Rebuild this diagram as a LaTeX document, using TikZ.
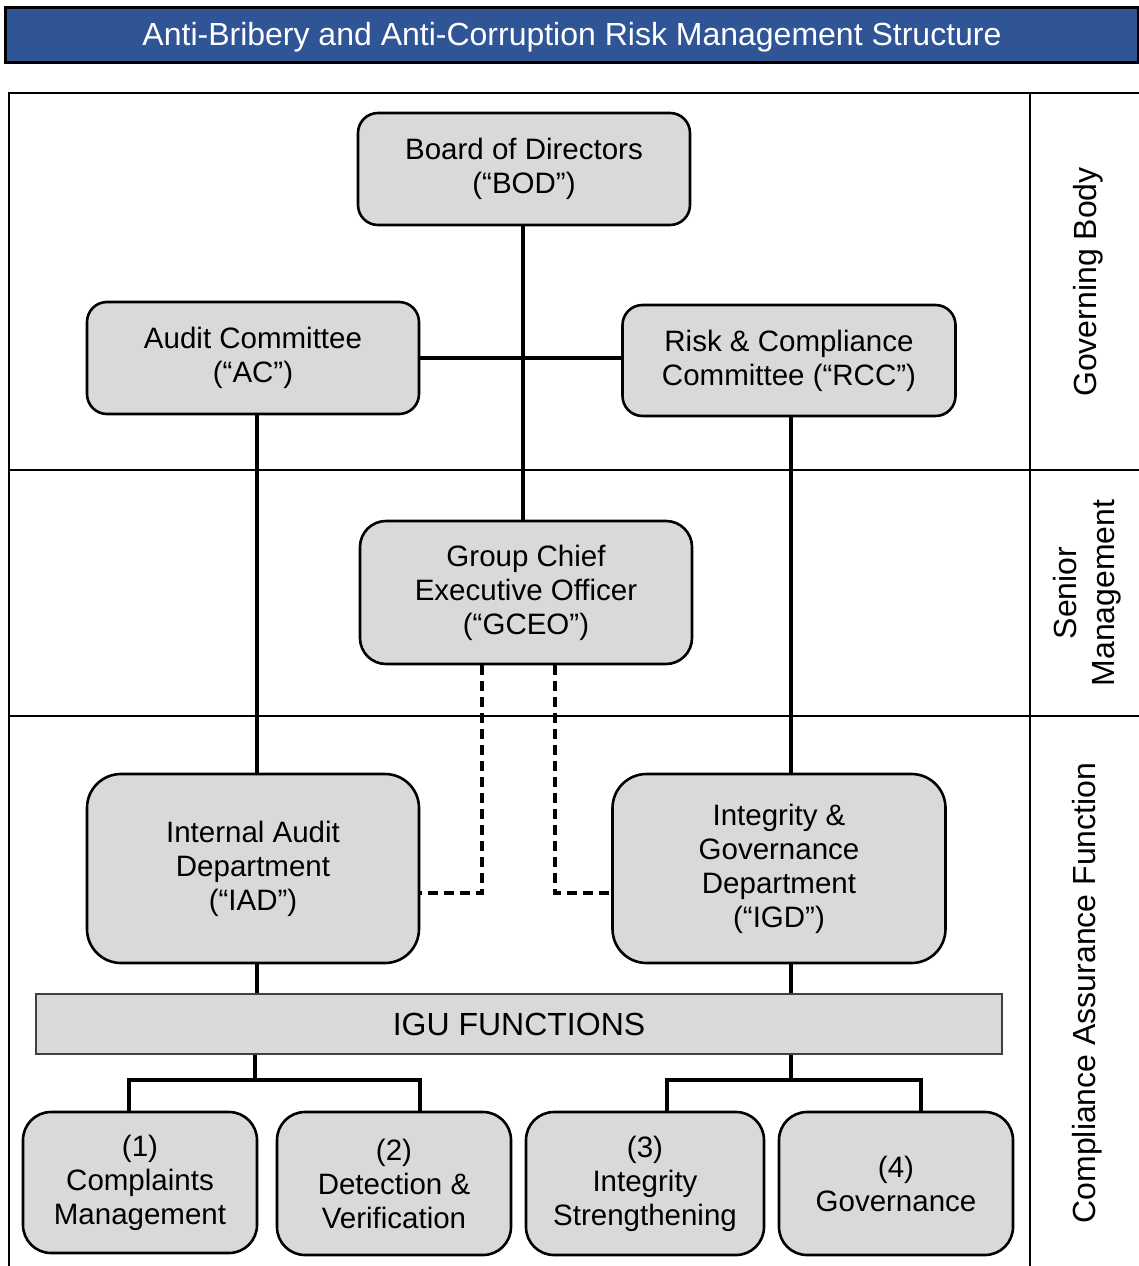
\documentclass[tikz,border=0pt]{standalone}
\usepackage{fontspec}
\setmainfont{Liberation Sans}
\usetikzlibrary{calc}
\definecolor{boxfill}{HTML}{D9D9D9}
\definecolor{titleblue}{HTML}{2F5597}
\tikzset{
  txt/.style={font=\fontsize{29.5}{34}\selectfont, align=center},
  bigtxt/.style={font=\fontsize{32}{38}\selectfont, align=center},
  orgbox/.style={txt, draw=black, line width=2.6pt, fill=boxfill, rounded corners=#1, inner sep=0pt},
  orgbox/.default=20pt,
  solidlink/.style={draw=black, line width=3.6pt},
  dashlink/.style={draw=black, line width=3.6pt, dash pattern=on 10pt off 6pt},
  tableline/.style={draw=black, line width=1.8pt},
  sidelabel/.style={bigtxt, rotate=90}
}
\begin{document}
\begin{tikzpicture}[x=1pt,y=-1pt]
\useasboundingbox (0,0) rectangle (1139,1266);
% title
\node[draw=black, line width=3pt, fill=titleblue, minimum width=1133pt, minimum height=55pt, inner sep=0pt, text=white, bigtxt] (title) at (571.5,34.5) {};
\node[text=white, bigtxt, anchor=center] (titletext) at (572,37.5) {Anti-Bribery and Anti-Corruption Risk Management Structure};
% table grid
\draw[tableline] (9,1266) -- (9,93) -- (1139,93);
\draw[tableline] (1030,93) -- (1030,1266);
\draw[tableline] (9,470) -- (1139,470);
\draw[tableline] (9,716) -- (1139,716);
% side labels
\node[sidelabel] (lgov) at (1088,282) {Governing Body};
\node[sidelabel] (lsen) at (1087,593) {Senior\\Management};
\node[sidelabel] (lcaf) at (1087,993) {Compliance Assurance Function};
% boxes
\node[orgbox, minimum width=332pt, minimum height=112pt] (BOD) at (524,169) {Board of Directors\\(“BOD”)};
\node[orgbox, minimum width=332pt, minimum height=112pt] (AC) at (253,358) {Audit Committee\\(“AC”)};
\node[orgbox, minimum width=333pt, minimum height=111pt] (RCC) at (789,360.5) {Risk \& Compliance\\Committee (“RCC”)};
\node[orgbox=26pt, minimum width=332pt, minimum height=143pt] (GCEO) at (526,592.5) {Group Chief\\Executive Officer\\(“GCEO”)};
\node[orgbox=34pt, minimum width=332pt, minimum height=189pt] (IAD) at (253,868.5) {Internal Audit\\Department\\(“IAD”)};
\node[orgbox=34pt, minimum width=333pt, minimum height=189pt] (IGD) at (779,868.5) {Integrity \&\\Governance\\Department\\(“IGD”)};
\node[bigtxt, draw=black!75, line width=2pt, fill=boxfill, minimum width=966pt, minimum height=60pt, inner sep=0pt] (IGU) at (519,1024) {IGU FUNCTIONS};
\node[orgbox=28pt, minimum width=234pt, minimum height=141pt] (B1) at (140,1182.5) {(1)\\Complaints\\Management};
\node[orgbox=28pt, minimum width=234pt, minimum height=143pt] (B2) at (394,1183.5) {(2)\\Detection \&\\Verification};
\node[orgbox=28pt, minimum width=238pt, minimum height=143pt] (B3) at (645,1183.5) {(3)\\Integrity\\Strengthening};
\node[orgbox=28pt, minimum width=234pt, minimum height=143pt] (B4) at (896,1183.5) {(4)\\Governance};
% connectors
\draw[solidlink] ([xshift=-1pt]BOD.south) -- ([xshift=-1pt]BOD.south |- GCEO.north);
\draw[solidlink] (AC.east) -- (AC.east -| RCC.west);
\draw[solidlink] ([xshift=4pt]AC.south) -- ([xshift=4pt]AC.south |- IAD.north);
\draw[solidlink] ([xshift=2pt]RCC.south) -- ([xshift=2pt]RCC.south |- IGD.north);
\draw[dashlink] ([xshift=-44pt]GCEO.south) |- ([yshift=-24.5pt]IAD.east);
\draw[dashlink] ([xshift=29pt]GCEO.south) |- ([yshift=-24.5pt]IGD.west);
\draw[solidlink] ([xshift=4pt]IAD.south) -- ([xshift=4pt]IAD.south |- IGU.north);
\draw[solidlink] ([xshift=12pt]IGD.south) -- ([xshift=12pt]IGD.south |- IGU.north);
\coordinate (jL) at (255,1080);
\coordinate (jR) at (791,1080);
\draw[solidlink] (IGU.south -| jL) -- (jL);
\draw[solidlink] ([xshift=-11pt]B1.north) |- (jL) -| ([xshift=26pt]B2.north);
\draw[solidlink] (IGU.south -| jR) -- (jR);
\draw[solidlink] ([xshift=22pt]B3.north) |- (jR) -| ([xshift=25pt]B4.north);
\end{tikzpicture}
\end{document}
